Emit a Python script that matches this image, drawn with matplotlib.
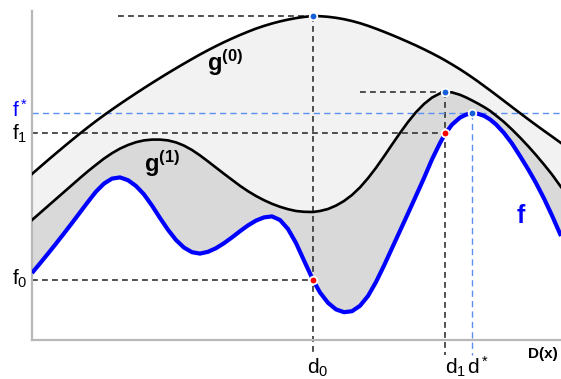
import numpy as np
import matplotlib.pyplot as plt

''' sketch of the upper bound functions g(0), g(1) over the true function f '''
plt.rcParams['mathtext.fontset'] = 'custom'
plt.rcParams['mathtext.rm'] = 'Liberation Sans'
plt.rcParams['mathtext.it'] = 'Liberation Sans:italic'
plt.rcParams['mathtext.bf'] = 'Liberation Sans:bold'

# positions along D(x) (pixel-like units)
x = [32, 40, 48, 56, 64, 72, 80, 88, 96, 104, 112, 120, 128, 136, 144, 152, 160, 168, 176, 184,
     192, 200, 208, 216, 224, 232, 240, 248, 256, 264, 272, 280, 288, 296, 304, 313, 320, 328, 336, 344,
     352, 360, 368, 376, 384, 392, 400, 408, 416, 424, 432, 440, 445, 452, 460, 466, 472, 478, 484, 490,
     496, 504, 512, 520, 528, 536, 544, 552, 561]

# curve heights, measured from the top of the picture (axis is inverted)
g0 = [174, 167.0, 160.1, 153.3, 146.6, 140.0, 133.5, 127.2, 121.1, 115.2, 109.5, 104.0, 98.6, 93.3, 88.1, 83.0,
      78.0, 73.1, 68.3, 63.6, 59.0, 54.5, 50.2, 46.1, 42.2, 38.5, 35.0, 31.7, 28.6, 25.9, 23.5, 21.4,
      19.6, 18.1, 16.9, 16.0, 16.2, 16.8, 17.8, 19.2, 21.0, 23.2, 25.8, 28.7, 31.8, 35.0, 38.4, 41.9,
      45.5, 49.3, 53.3, 57.5, 60.3, 64.4, 69.3, 73.2, 77.3, 81.5, 85.9, 90.3, 94.8, 100.9, 107.0, 113.1,
      119.1, 125.0, 130.8, 136.5, 143.0]
g1 = [220, 213.0, 206.0, 199.0, 192.0, 185.0, 178.0, 171.2, 164.8, 158.6, 153.2, 148.6, 145.0, 142.2, 140.4, 139.6,
      139.6, 140.4, 142.4, 145.6, 150.0, 155.4, 161.4, 167.6, 173.8, 179.8, 185.8, 191.2, 196.0, 200.2, 203.8, 206.8,
      209.2, 211.0, 211.8, 212.0, 211.0, 209.0, 205.6, 201.0, 195.0, 187.4, 178.2, 167.8, 156.4, 144.6, 133.0, 122.0,
      112.2, 104.0, 97.6, 93.4, 92.0, 92.4, 94.8, 97.4, 100.4, 103.6, 107.0, 110.8, 115.5, 122.0, 129.5, 137.5,
      146.0, 155.0, 164.5, 174.5, 187.0]
f = [273, 263.4, 253.6, 243.6, 233.4, 223.0, 212.4, 201.8, 191.6, 183.6, 178.6, 177.4, 180.2, 186.0, 194.4, 205.6,
     218.0, 229.8, 240.0, 247.6, 252.2, 253.6, 251.8, 248.2, 243.2, 237.4, 231.2, 225.4, 220.6, 217.4, 216.4, 220.0,
     229.0, 243.0, 260.5, 280.0, 292.5, 302.8, 309.4, 312.2, 311.2, 305.8, 296.0, 282.0, 265.6, 248.2, 230.8, 213.4,
     195.8, 178.0, 159.4, 143.0, 134.0, 124.6, 117.6, 114.6, 113.4, 113.8, 115.8, 119.4, 124.4, 133.0, 143.5, 156.0,
     169.0, 183.0, 198.5, 215.5, 236.0]

# special points
d0, d1, d_star = 313, 445, 472
f0, f1, f_star = 280, 133, 113
g0_max, g1_max = 16, 92

fig = plt.figure(figsize=(5.61, 3.79), dpi=100)
ax = fig.add_axes([32 / 561, 39 / 379, 529 / 561, 329 / 379])
ax.set_xlim(32, 561)
ax.set_ylim(340, 11)

# shaded bands
ax.fill_between(x, g0, g1, color='#f2f2f2', lw=0, zorder=1)
ax.fill_between(x, g1, f, color='#d9d9d9', lw=0, zorder=1)

# helper lines
dash = dict(color='#333333', lw=1.2, ls=(0, (3.5, 2.5)), zorder=2, clip_on=False)
bdash = dict(color='#5b8ff0', lw=1.0, ls=(0, (4.5, 3)), zorder=2, clip_on=False)
ax.plot([118, d0], [g0_max, g0_max], **dash)
ax.plot([d0, d0], [g0_max, 355], **dash)
ax.plot([32, d0], [f0, f0], **dash)
ax.plot([32, d1], [f1, f1], **dash)
ax.plot([360, d1], [g1_max, g1_max], **dash)
ax.plot([d1, d1], [g1_max, 355], **dash)
ax.plot([32, 561], [f_star, f_star], **bdash)
ax.plot([d_star, d_star], [f_star, 355], **bdash)

# the curves
ax.plot(x, g0, color='black', lw=1.9, zorder=3, solid_joinstyle='round')
ax.plot(x, g1, color='black', lw=1.9, zorder=3, solid_joinstyle='round')
ax.plot(x, f, color='#0000ff', lw=3.0, zorder=4, solid_joinstyle='round', solid_capstyle='butt')

# marked points
ax.plot([d0, d1, d_star], [g0_max, g1_max, f_star], 'o', color='#1560d8', ms=5.5, mec='white', mew=1.3, zorder=5)
ax.plot([d0, d1], [f0, f1], 'o', color='#ff0000', ms=5.5, mec='white', mew=1.3, zorder=5)

# labels
ax.text(207, 71, r'$\mathbf{g^{(0)}}$', fontsize=17, zorder=6)
ax.text(144, 172, r'$\mathbf{g^{(1)}}$', fontsize=17, zorder=6)
ax.text(516, 223, r'$\mathbf{f}$', fontsize=18, color='#0000ff', zorder=6)

ax.text(12, 117, r'$\mathrm{f}^*$', fontsize=15, color='#0000ff')
ax.text(12, 140, r'$\mathrm{f}_1$', fontsize=15)
ax.text(12, 285, r'$\mathrm{f}_0$', fontsize=15)
ax.text(307, 374, r'$\mathrm{d}_0$', fontsize=15)
ax.text(445, 374, r'$\mathrm{d}_1$', fontsize=15)
ax.text(467, 374, r'$\mathrm{d}^*$', fontsize=15)
ax.text(528, 358, 'D(x)', fontsize=11, fontweight='bold', family='Liberation Sans')

for s in ['top', 'right']:
    ax.spines[s].set_visible(False)
for s in ['left', 'bottom']:
    ax.spines[s].set_color('#b8b8b8')
    ax.spines[s].set_linewidth(1.6)
ax.set_xticks([])
ax.set_yticks([])

plt.savefig('out.png', dpi=100)
